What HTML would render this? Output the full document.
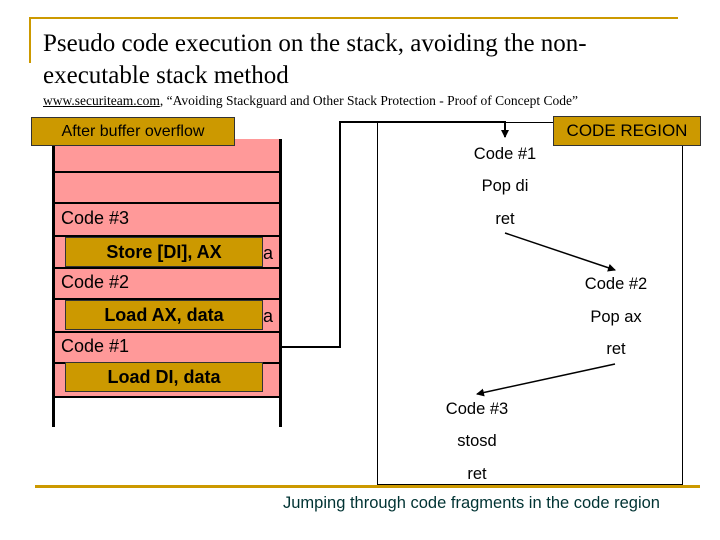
<!DOCTYPE html>
<html><head><style>
body{margin:0;width:720px;height:540px;background:#fff;position:relative;overflow:hidden;font-family:"Liberation Sans",sans-serif}
.a{position:absolute}
.t{font-family:"Liberation Serif",serif;font-size:25px;color:#000;line-height:32px;left:43px;top:28px}
.gold{position:absolute;background:#cc9900;border:1px solid #333;box-sizing:border-box;display:flex;align-items:center;justify-content:center;color:#000}
.row{position:absolute;left:53px;width:227px;border-top:2px solid #000;box-sizing:border-box}
.lbl{position:absolute;font-size:18px}
.c{position:absolute;font-size:16.5px;text-align:center;width:120px}
</style></head><body>
<div class="a" style="left:30px;top:17px;width:648px;height:2px;background:#cc9900"></div>
<div class="a" style="left:29px;top:17px;width:2px;height:46px;background:#cc9900"></div>
<div class="a" style="left:35px;top:485px;width:665px;height:3px;background:#cc9900"></div>
<div class="a t">Pseudo code execution on the stack, avoiding the non-<br>executable stack method</div>
<div class="a" style="left:43px;top:93px;font-family:'Liberation Serif',serif;font-size:13.5px;white-space:nowrap"><u>www.securiteam.com</u>, “Avoiding Stackguard and Other Stack Protection - Proof of Concept Code”</div>

<div class="a" style="left:53px;top:139px;width:227px;height:258px;background:#ff9999"></div>
<div class="a" style="left:52px;top:139px;width:3px;height:288px;background:#000"></div>
<div class="a" style="left:279px;top:139px;width:3px;height:288px;background:#000"></div>
<div class="row" style="top:171px"></div><div class="row" style="top:202px"></div>
<div class="row" style="top:235px"></div><div class="row" style="top:267px"></div>
<div class="row" style="top:298px"></div><div class="row" style="top:331px"></div>
<div class="row" style="top:362px"></div><div class="row" style="top:396px"></div>
<div class="lbl" style="left:61px;top:208px">Code #3</div>
<div class="lbl" style="left:61px;top:272px">Code #2</div>
<div class="lbl" style="left:61px;top:336px">Code #1</div>
<div class="lbl" style="left:263px;top:243px">a</div>
<div class="lbl" style="left:263px;top:306px">a</div>
<div class="gold" style="left:31px;top:117px;width:204px;height:29px;font-size:16px">After buffer overflow</div>
<div class="gold" style="left:65px;top:237px;width:198px;height:30px;font-size:18px;font-weight:bold">Store [DI], AX</div>
<div class="gold" style="left:65px;top:300px;width:198px;height:30px;font-size:18px;font-weight:bold">Load AX, data</div>
<div class="gold" style="left:65px;top:362px;width:198px;height:30px;font-size:18px;font-weight:bold">Load DI, data</div>

<div class="a" style="left:377px;top:122px;width:306px;height:363px;border:1px solid #000;box-sizing:border-box"></div>
<svg class="a" style="left:0;top:0" width="720" height="540">
<defs><marker id="m" markerWidth="8" markerHeight="8" refX="7" refY="4" orient="auto" markerUnits="userSpaceOnUse"><path d="M0,0L8,4L0,8z" fill="#000"/></marker></defs>
<polyline points="281,347 340,347 340,122 505,122 505,137" fill="none" stroke="#000" stroke-width="2" marker-end="url(#m)"/>
<line x1="505" y1="233" x2="615" y2="270" stroke="#000" stroke-width="1.5" marker-end="url(#m)"/>
<line x1="615" y1="364" x2="477" y2="394" stroke="#000" stroke-width="1.5" marker-end="url(#m)"/>
</svg>
<div class="gold" style="left:553px;top:116px;width:148px;height:30px;font-size:17px">CODE REGION</div>
<div class="c" style="left:445px;top:145px">Code #1</div>
<div class="c" style="left:445px;top:177px">Pop di</div>
<div class="c" style="left:445px;top:210px">ret</div>
<div class="c" style="left:556px;top:275px">Code #2</div>
<div class="c" style="left:556px;top:308px">Pop ax</div>
<div class="c" style="left:556px;top:340px">ret</div>
<div class="c" style="left:417px;top:400px">Code #3</div>
<div class="c" style="left:417px;top:432px">stosd</div>
<div class="c" style="left:417px;top:465px">ret</div>
<div class="a" style="left:283px;top:494px;font-size:16.5px;color:#003333;white-space:nowrap">Jumping through code fragments in the code region</div>
</body></html>
